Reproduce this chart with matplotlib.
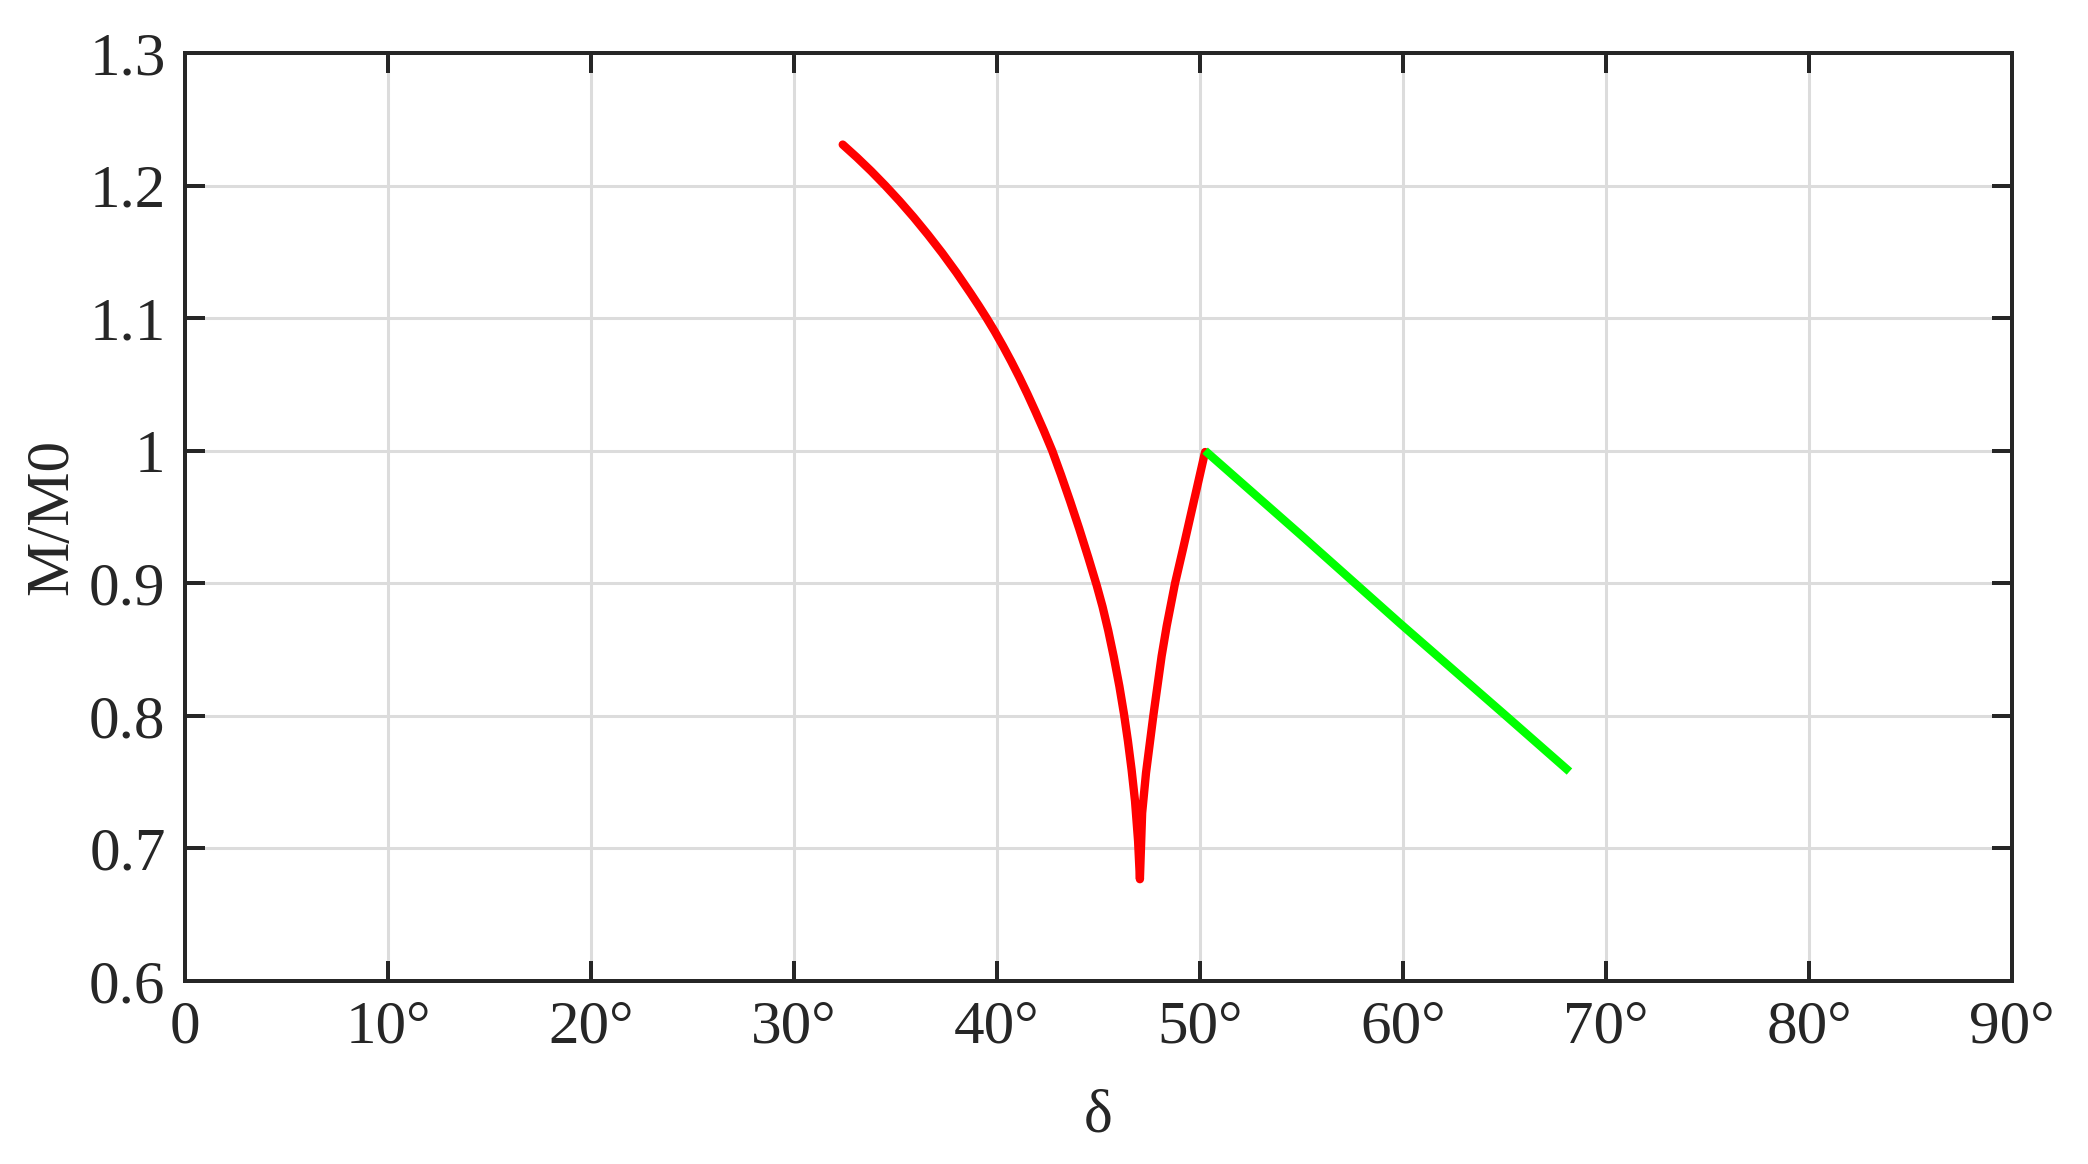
import matplotlib
matplotlib.use("Agg")
import matplotlib.pyplot as plt

# data
red_x = [32.40, 33.10, 33.80, 34.50, 35.20, 35.90, 36.60, 37.30, 38.00, 38.70,
         39.10, 39.49, 39.90, 40.30, 40.70, 41.10, 41.50, 41.90, 42.30, 42.72,
         43.15, 43.60, 44.05, 44.50, 44.91, 45.20, 45.48, 45.75, 46.03, 46.26,
         46.45, 46.63, 46.80, 46.95, 47.04, 47.15, 47.34, 47.70, 48.11, 48.36,
         48.77, 49.18, 49.67, 50.25]
red_y = [1.2309, 1.2212, 1.2109, 1.1999, 1.1883, 1.1760, 1.1629, 1.1491, 1.1344, 1.1187,
         1.1094, 1.1000, 1.0896, 1.0788, 1.0674, 1.0554, 1.0427, 1.0293, 1.0154, 1.0000,
         0.9819, 0.9620, 0.9412, 0.9193, 0.8985, 0.8823, 0.8643, 0.8447, 0.8222, 0.8010,
         0.7810, 0.7594, 0.7356, 0.7056, 0.6768, 0.7267, 0.7569, 0.8000, 0.8451, 0.8678,
         0.9000, 0.9270, 0.9600, 0.9990]
green_x = [50.25, 55.0, 59.85, 65.0, 68.2]
green_y = [1.000, 0.936, 0.8698, 0.801, 0.758]

xticks = [0, 10, 20, 30, 40, 50, 60, 70, 80, 90]
xtick_labels = ["0", "10°", "20°", "30°", "40°", "50°", "60°", "70°", "80°", "90°"]
yticks = [0.6, 0.7, 0.8, 0.9, 1.0, 1.1, 1.2, 1.3]
ytick_labels = ["0.6", "0.7", "0.8", "0.9", "1", "1.1", "1.2", "1.3"]

plt.rcParams['font.family'] = ['Liberation Serif', 'DejaVu Serif']
txt = '#262626'

fig = plt.figure(figsize=(10.44, 5.82), dpi=200)
ax = fig.add_axes([0.0886, 0.1572, 0.875, 0.7973])

ax.plot(red_x, red_y, color='#ff0000', lw=3.0, solid_capstyle='round', solid_joinstyle='round', zorder=3)
ax.plot(green_x, green_y, color='#00ff00', lw=3.0, solid_capstyle='butt', zorder=3)

ax.set_xlim(0, 90)
ax.set_ylim(0.6, 1.3)
ax.set_xticks(xticks)
ax.set_xticklabels(xtick_labels)
ax.set_yticks(yticks)
ax.set_yticklabels(ytick_labels)

ax.grid(True, color='#dcdcdc', lw=1.1, zorder=0)
ax.set_axisbelow(True)
for s in ax.spines.values():
    s.set_color(txt)
    s.set_linewidth(1.44)
ax.tick_params(direction='in', length=7.2, width=1.44, color=txt, labelcolor=txt,
               labelsize=22, top=True, right=True, pad=7)

ax.set_xlabel('δ', fontsize=22, color=txt, labelpad=12)
ax.set_ylabel('M/M0', fontsize=22, color=txt, labelpad=3)

fig.savefig('out.png', dpi=200)
